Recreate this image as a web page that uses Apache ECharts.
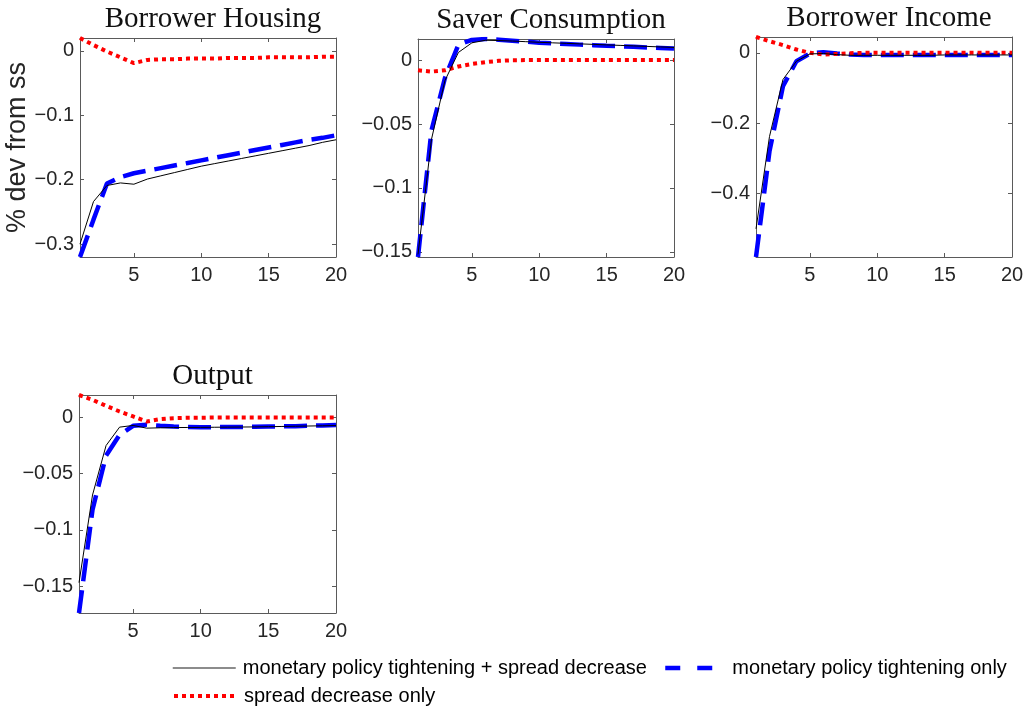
<!DOCTYPE html>
<html><head><meta charset="utf-8">
<script src="https://cdn.jsdelivr.net/npm/echarts@6/dist/echarts.min.js"></script>
<style>html,body{margin:0;padding:0;background:#fff}#c{width:1028px;height:708px}</style>
</head><body><div id="c"></div>
<script>
const periods = [1,2,3,4,5,6,7,8,9,10,11,12,13,14,15,16,17,18,19,20];
const xTicks = [5,10,15,20];
const seriesNames = ['monetary policy tightening + spread decrease', 'monetary policy tightening only', 'spread decrease only'];
const yLabel = '% dev from ss';

const panelTitles = ['Borrower Housing', 'Saver Consumption', 'Borrower Income', 'Output'];

const housingBoth   = [-0.300,-0.234,-0.209,-0.205,-0.207,-0.199,-0.194,-0.189,-0.184,-0.179,-0.175,-0.171,-0.167,-0.163,-0.159,-0.155,-0.151,-0.147,-0.142,-0.138];
const housingTight  = [-0.320,-0.262,-0.206,-0.196,-0.190,-0.186,-0.182,-0.178,-0.174,-0.170,-0.166,-0.162,-0.158,-0.154,-0.150,-0.146,-0.142,-0.138,-0.135,-0.131];
const housingSpread = [0.020,0.009,-0.001,-0.010,-0.019,-0.014,-0.013,-0.013,-0.012,-0.012,-0.012,-0.011,-0.011,-0.011,-0.010,-0.010,-0.010,-0.010,-0.009,-0.009];
const housingTicks  = [-0.3,-0.2,-0.1,0];
const housingRange  = [-0.32, 0.02];

const saverBoth   = [-0.152,-0.062,-0.016,0.006,0.0135,0.0155,0.0153,0.0149,0.0144,0.0139,0.0135,0.0131,0.0127,0.0123,0.0119,0.0115,0.0111,0.0107,0.0103,0.0099];
const saverTight  = [-0.154,-0.055,-0.014,0.012,0.0158,0.0165,0.0160,0.0152,0.0144,0.0136,0.0131,0.0126,0.0121,0.0117,0.0112,0.0108,0.0104,0.0099,0.0095,0.0091];
const saverSpread = [-0.008,-0.009,-0.008,-0.005,-0.003,-0.0016,-0.0006,-0.0001,0,0,0,0,0,0,0,0,0,0,0,0];
const saverTicks  = [-0.15,-0.1,-0.05,0];
const saverRange  = [-0.154, 0.0165];

const incomeBoth   = [-0.500,-0.238,-0.076,-0.024,-0.003,-0.002,-0.005,-0.007,-0.007,-0.007,-0.007,-0.007,-0.007,-0.007,-0.006,-0.006,-0.006,-0.006,-0.006,-0.006];
const incomeTight  = [-0.580,-0.280,-0.095,-0.024,-0.002,0.002,-0.002,-0.005,-0.006,-0.006,-0.006,-0.006,-0.006,-0.006,-0.006,-0.006,-0.006,-0.006,-0.006,-0.006];
const incomeSpread = [0.045,0.033,0.022,0.0095,0.000,-0.005,-0.003,-0.001,0,0,0,0,0,0,0,0,0,0,0,0];
const incomeTicks  = [-0.4,-0.2,0];
const incomeRange  = [-0.58, 0.045];

const outputBoth   = [-0.147,-0.069,-0.025,-0.0086,-0.0071,-0.0095,-0.0092,-0.0090,-0.0089,-0.0088,-0.0087,-0.0086,-0.0085,-0.0084,-0.0082,-0.0080,-0.0078,-0.0076,-0.0074,-0.0072];
const outputTight  = [-0.174,-0.082,-0.034,-0.0155,-0.0074,-0.0065,-0.0074,-0.0080,-0.0084,-0.0086,-0.0086,-0.0085,-0.0084,-0.0083,-0.0081,-0.0079,-0.0077,-0.0074,-0.0071,-0.0068];
const outputSpread = [0.020,0.0157,0.0104,0.0053,0.0009,-0.0036,-0.0015,-0.0006,-0.0003,-0.0002,-0.0001,0,0,0,0,0,0,0,0,0];
const outputTicks  = [-0.15,-0.1,-0.05,0];
const outputRange  = [-0.174, 0.02];

const panels = [
  {both: housingBoth, tight: housingTight, spread: housingSpread, ticks: housingTicks, range: housingRange, box: {left: 80, top: 38, width: 256, height: 219}},
  {both: saverBoth, tight: saverTight, spread: saverSpread, ticks: saverTicks, range: saverRange, box: {left: 418, top: 39, width: 256, height: 218}},
  {both: incomeBoth, tight: incomeTight, spread: incomeSpread, ticks: incomeTicks, range: incomeRange, box: {left: 756, top: 37, width: 256, height: 220}},
  {both: outputBoth, tight: outputTight, spread: outputSpread, ticks: outputTicks, range: outputRange, box: {left: 79, top: 395, width: 257, height: 218}}
];

const SANS = "'Liberation Sans', Arial, Helvetica, sans-serif";
const SERIF = "'Liberation Serif', 'Times New Roman', serif";
const AX = '#5a5a5a';
const TXT = '#262626';

const fmt = v => {
  const r = Math.round(v * 1000) / 1000;
  return r < 0 ? '\u2212' + String(-r) : String(r);
};

const grid = [], xAxis = [], yAxis = [], series = [], title = [];
panels.forEach((p, i) => {
  grid.push(Object.assign({containLabel: false}, p.box));
  const tickIn = {show: true, inside: true, length: 4, lineStyle: {color: AX, width: 1}};
  xAxis.push({type: 'value', gridIndex: i, min: 1, max: 20, position: 'bottom',
    axisLine: {show: true, onZero: false, lineStyle: {color: AX, width: 1}},
    axisTick: Object.assign({customValues: xTicks}, tickIn),
    axisLabel: {customValues: xTicks, color: TXT, fontSize: 20, fontFamily: SANS, margin: 8},
    splitLine: {show: false}});
  xAxis.push({type: 'value', gridIndex: i, min: 1, max: 20, position: 'top',
    axisLine: {show: true, onZero: false, lineStyle: {color: AX, width: 1}},
    axisTick: Object.assign({customValues: xTicks}, tickIn),
    axisLabel: {show: false}, splitLine: {show: false}});
  const yl = {type: 'value', gridIndex: i, min: p.range[0], max: p.range[1], position: 'left',
    axisLine: {show: true, onZero: false, lineStyle: {color: AX, width: 1}},
    axisTick: Object.assign({customValues: p.ticks}, tickIn),
    axisLabel: {customValues: p.ticks, color: TXT, fontSize: 20, fontFamily: SANS, margin: 6, formatter: fmt},
    splitLine: {show: false}};
  if (i === 0) {
    Object.assign(yl, {name: yLabel, nameLocation: 'middle', nameGap: 48, nameRotate: 90,
      nameTextStyle: {color: TXT, fontSize: 27, fontFamily: SANS}});
  }
  yAxis.push(yl);
  yAxis.push({type: 'value', gridIndex: i, min: p.range[0], max: p.range[1], position: 'right',
    axisLine: {show: true, onZero: false, lineStyle: {color: AX, width: 1}},
    axisTick: Object.assign({customValues: p.ticks}, tickIn),
    axisLabel: {show: false}, splitLine: {show: false}});
  title.push({text: panelTitles[i], left: p.box.left + p.box.width / 2, top: p.box.top - 38, textAlign: 'center',
    textStyle: {fontFamily: SERIF, fontWeight: 'normal', fontSize: 29, color: '#111'}});
  const xi = i * 2, yi = i * 2;
  series.push({name: seriesNames[1], type: 'line', xAxisIndex: xi, yAxisIndex: yi, z: 2,
    data: periods.map((t, k) => [t, p.tight[k]]), symbol: 'none', clip: true,
    lineStyle: {color: '#0000ff', width: 4.5, type: [23, 9], cap: 'butt'}, itemStyle: {color: '#0000ff'}});
  series.push({name: seriesNames[2], type: 'line', xAxisIndex: xi, yAxisIndex: yi, z: 3,
    data: periods.map((t, k) => [t, p.spread[k]]), symbol: 'none', clip: true,
    lineStyle: {color: '#ff0000', width: 4, type: [4, 4], cap: 'butt'}, itemStyle: {color: '#ff0000'}});
  series.push({name: seriesNames[0], type: 'line', xAxisIndex: xi, yAxisIndex: yi, z: 4,
    data: periods.map((t, k) => [t, p.both[k]]), symbol: 'none', clip: true,
    lineStyle: {color: '#000000', width: 1}, itemStyle: {color: '#000000'}});
});

const legendText = {color: '#000', fontSize: 20, fontFamily: SANS, padding: [0, 0, 0, 2]};
const hiddenSym = {opacity: 0};
const legend = [
  {left: 172, top: 658, padding: 0, itemWidth: 63, itemHeight: 10, textStyle: legendText,
    data: [{name: seriesNames[0], itemStyle: hiddenSym, lineStyle: {color: '#666', width: 1.5}}]},
  {left: 663, top: 658, padding: 0, itemWidth: 48, itemHeight: 10, textStyle: Object.assign({}, legendText, {padding: [0, 0, 0, 14]}),
    data: [{name: seriesNames[1], itemStyle: hiddenSym, lineStyle: {color: '#0000ff', width: 4.5, type: [15, 17], cap: 'butt'}}]},
  {left: 172, top: 686, padding: 0, itemWidth: 63, itemHeight: 10, textStyle: legendText,
    data: [{name: seriesNames[2], itemStyle: hiddenSym, lineStyle: {color: '#ff0000', width: 4, type: [4, 4], cap: 'butt'}}]}
];

const chart = echarts.init(document.getElementById('c'), null, {renderer: 'canvas'});
chart.setOption({animation: false, backgroundColor: '#fff', title, grid, xAxis, yAxis, series, legend});
</script>
</body></html>
